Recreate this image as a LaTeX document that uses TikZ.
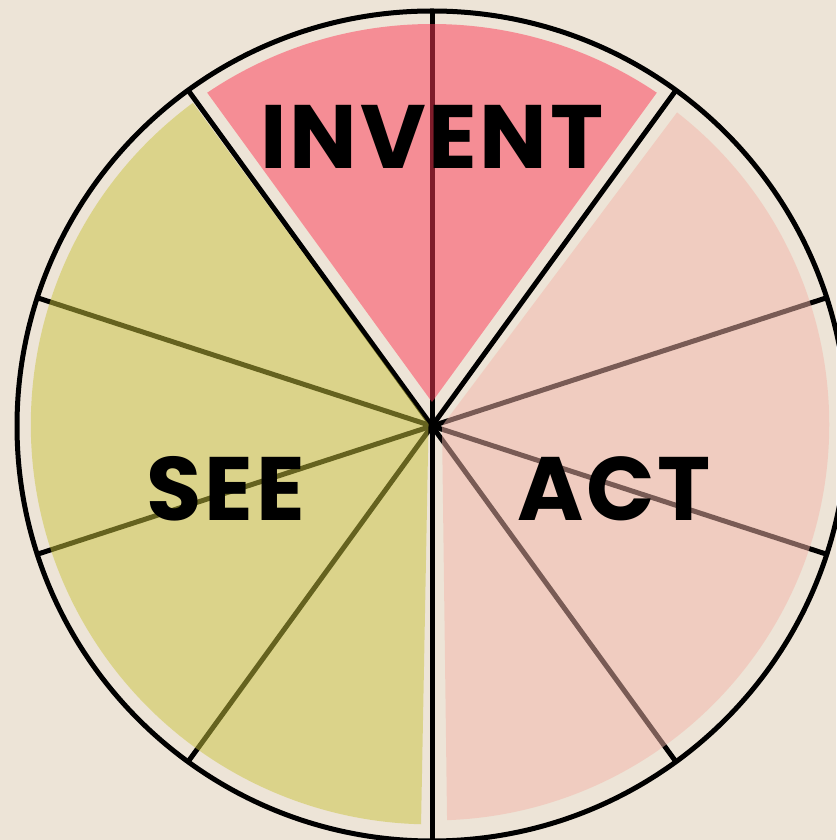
\documentclass[tikz,border=0pt]{standalone}
\usepackage{fontspec}
\setmainfont{Poppins}
\usetikzlibrary{calc}
\definecolor{paper}{RGB}{237,228,215}
\definecolor{inventred}{RGB}{253,56,84}
\definecolor{seeolive}{RGB}{203,196,62}
\definecolor{actpeach}{RGB}{243,182,170}

\begin{document}
\begin{tikzpicture}[x=1pt, y=1pt,
  spoke/.style={line width=5pt, black},
  paint/.style={fill opacity=0.5},
  word/.style={font=\addfontfeatures{LetterSpace=3}\fontsize{90}{90}\selectfont\bfseries, inner sep=0pt}
]

%% ── BACKGROUND ──
\fill[paper] (0,0) rectangle (836,840);
\useasboundingbox (0,0) rectangle (836,840);
\coordinate (c) at (432,414);

%% ── WHEEL ──
\foreach \a in {90,54,...,-234}
  \draw[spoke] (c) -- ++(\a:415);
\draw[spoke] (c) circle (415);

%% ── PAINT ──
\fill[paint, inventred] ($(c)+(90:24)$) -- ($(c)+(124:402)$)
  arc (124:56:402) -- cycle;
\fill[paint, seeolive] ($(c)+(150:4)$) -- ($(c)+(126.5:402)$)
  arc (126.5:268.6:400) -- cycle;
\fill[paint, actpeach] ($(c)+(0:10)$) -- ($(c)+(52:398)$)
  arc (52:-88:396) -- cycle;

%% ── LABELS ──
\node[word] (invent) at (432,703) {INVENT};
\node[word] (see) at (226,351) {SEE};
\node[word] (act) at (614,351) {ACT};

\end{tikzpicture}
\end{document}
